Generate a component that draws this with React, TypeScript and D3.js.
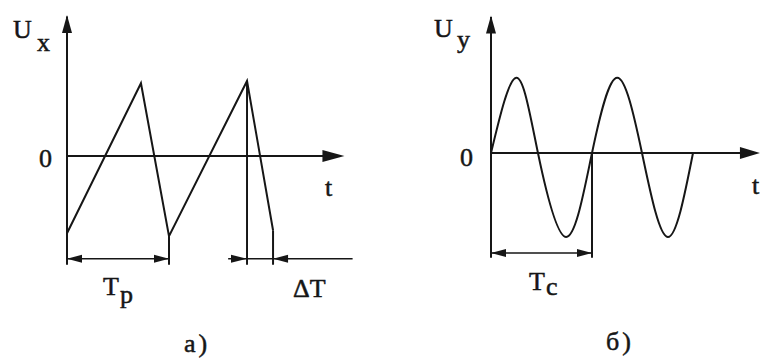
import React from "react";
import * as d3 from "d3";

// ---------- Panel а): sawtooth sweep voltage ----------
const sawTime = [0, 0.725, 1.0, 1.765, 2.02];
const sawValue = [-1.03, 0.97, -1.07, 1.0, -0.99];
const sawPeriod = [0, 1.0]; // Tp
const sawFlyback = [1.765, 2.02]; // ΔT

// ---------- Panel б): sine signal voltage ----------
const sineTime = [0, 0.25, 0.465, 0.745, 1.0, 1.25, 1.495, 1.75, 2.0];
const sineValue = [0, 0.94, 0, -1.05, 0, 0.94, 0, -1.05, 0];
const sinePeriod = [0, 1.0]; // Tc

// ---------- Labels ----------
const labelsA = { y: "U", ySub: "x", zero: "0", x: "t", period: "T", periodSub: "p", delta: "ΔT", caption: "а)" };
const labelsB = { y: "U", ySub: "y", zero: "0", x: "t", period: "T", periodSub: "c", caption: "б)" };

const INK = "#161616";
const FONT = '"Liberation Serif"';

type Pt = [number, number];

function Arrow({ tip, dir, len, half }: { tip: Pt; dir: "l" | "r" | "u"; len: number; half: number }) {
  const [x, y] = tip;
  let pts: Pt[];
  if (dir === "r") pts = [[x, y], [x - len, y - half], [x - len, y + half]];
  else if (dir === "l") pts = [[x, y], [x + len, y - half], [x + len, y + half]];
  else pts = [[x, y], [x - half, y + len], [x + half, y + len]];
  return <polygon points={pts.map((p) => p.join(",")).join(" ")} fill={INK} />;
}

function Line({ x1, y1, x2, y2, w = 2 }: { x1: number; y1: number; x2: number; y2: number; w?: number }) {
  return <line x1={x1} y1={y1} x2={x2} y2={y2} stroke={INK} strokeWidth={w} />;
}

function T({ x, y, children, ls }: { x: number; y: number; children: React.ReactNode; ls?: number }) {
  return (
    <text
      x={x}
      y={y}
      fill={INK}
      stroke={INK}
      strokeWidth={0.5}
      style={{ fontFamily: FONT, fontSize: 26, letterSpacing: ls ? `${ls}px` : undefined }}
    >
      {children}
    </text>
  );
}

function PanelA() {
  const x = d3.scaleLinear().domain([0, 1]).range([67, 169]);
  const y = d3.scaleLinear().domain([0, 1]).range([156, 81]);
  const pts: Pt[] = sawTime.map((t, i) => [t, sawValue[i]]);
  const line = d3.line<Pt>().x((d) => x(d[0])).y((d) => y(d[1]));
  const yBottom = y(-1.45);
  const dimY = y(-1.37);
  return (
    <g>
      {/* axes */}
      <Line x1={x(0)} y1={y(1.86)} x2={x(0)} y2={yBottom} />
      <Arrow tip={[x(0), y(1.88)]} dir="u" len={18} half={5} />
      <Line x1={x(0)} y1={y(0)} x2={x(2.6)} y2={y(0)} />
      <Arrow tip={[x(2.72), y(0)]} dir="r" len={22} half={6} />
      {/* waveform */}
      <path d={line(pts) || ""} fill="none" stroke={INK} strokeWidth={2} strokeLinejoin="miter" />
      {/* extension lines */}
      <Line x1={x(sawPeriod[1])} y1={y(sawValue[2])} x2={x(sawPeriod[1])} y2={yBottom} />
      <Line x1={x(sawFlyback[0])} y1={y(sawValue[3])} x2={x(sawFlyback[0])} y2={yBottom} />
      <Line x1={x(sawFlyback[1])} y1={y(sawValue[4])} x2={x(sawFlyback[1])} y2={yBottom} />
      {/* Tp dimension */}
      <Line x1={x(sawPeriod[0])} y1={dimY} x2={x(sawPeriod[1])} y2={dimY} w={1.6} />
      <Arrow tip={[x(sawPeriod[0]), dimY]} dir="l" len={15} half={4} />
      <Arrow tip={[x(sawPeriod[1]), dimY]} dir="r" len={15} half={4} />
      {/* ΔT dimension */}
      <Line x1={x(1.58)} y1={dimY} x2={x(2.8)} y2={dimY} w={1.6} />
      <Arrow tip={[x(sawFlyback[0]), dimY]} dir="r" len={16} half={4} />
      <Arrow tip={[x(sawFlyback[1]), dimY]} dir="l" len={15} half={4} />
      {/* labels */}
      <T x={13} y={38}>{labelsA.y}</T>
      <T x={37} y={51}>{labelsA.ySub}</T>
      <T x={39} y={167}>{labelsA.zero}</T>
      <T x={325} y={196}>{labelsA.x}</T>
      <T x={103} y={295}>{labelsA.period}</T>
      <T x={120} y={303}>{labelsA.periodSub}</T>
      <T x={293} y={297}>{labelsA.delta}</T>
      <T x={184} y={352} ls={3}>{labelsA.caption}</T>
    </g>
  );
}

function PanelB() {
  const x = d3.scaleLinear().domain([0, 1]).range([491, 592]);
  const y = d3.scaleLinear().domain([0, 1]).range([153, 73]);
  const pts: Pt[] = sineTime.map((t, i) => [t, sineValue[i]]);
  const line = d3.line<Pt>().x((d) => x(d[0])).y((d) => y(d[1])).curve(d3.curveNatural);
  const yBottom = y(-1.31);
  const dimY = y(-1.25);
  return (
    <g>
      <Line x1={x(0)} y1={y(1.7)} x2={x(0)} y2={yBottom} />
      <Arrow tip={[x(0), y(1.72)]} dir="u" len={18} half={5} />
      <Line x1={x(0)} y1={y(0)} x2={x(2.5)} y2={y(0)} />
      <Arrow tip={[x(2.663), y(0)]} dir="r" len={20} half={6} />
      <path d={line(pts) || ""} fill="none" stroke={INK} strokeWidth={2} />
      <Line x1={x(sinePeriod[1])} y1={y(0)} x2={x(sinePeriod[1])} y2={yBottom} />
      <Line x1={x(sinePeriod[0])} y1={dimY} x2={x(sinePeriod[1])} y2={dimY} w={1.6} />
      <Arrow tip={[x(sinePeriod[0]), dimY]} dir="l" len={15} half={4} />
      <Arrow tip={[x(sinePeriod[1]), dimY]} dir="r" len={15} half={4} />
      <T x={434} y={37}>{labelsB.y}</T>
      <T x={457} y={48}>{labelsB.ySub}</T>
      <T x={460} y={166}>{labelsB.zero}</T>
      <T x={752} y={194}>{labelsB.x}</T>
      <T x={529} y={290}>{labelsB.period}</T>
      <T x={546} y={295}>{labelsB.periodSub}</T>
      <T x={606} y={350} ls={3}>{labelsB.caption}</T>
    </g>
  );
}

export default function App() {
  return (
    <svg
      width={760}
      height={359}
      viewBox="0 0 760 359"
      style={{ position: "absolute", left: 0, top: 0, background: "#fff" }}
    >
      <rect x={0} y={0} width={760} height={359} fill="#fff" />
      <PanelA />
      <PanelB />
    </svg>
  );
}
